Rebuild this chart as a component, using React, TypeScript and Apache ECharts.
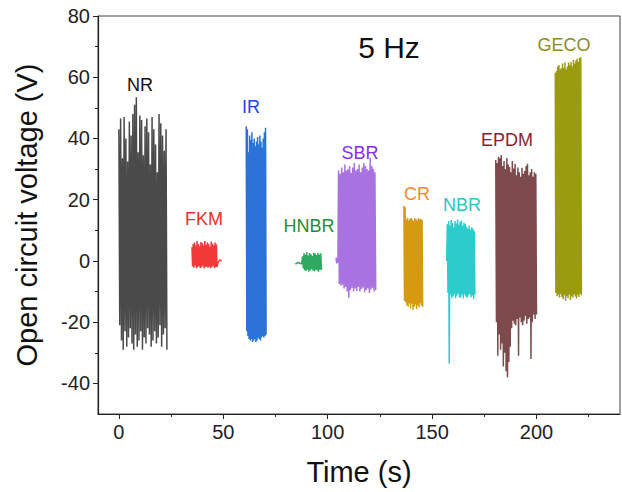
import React, { useEffect, useRef } from "react";
import * as echarts from "echarts";

const FONT = "'Liberation Sans', Arial, sans-serif";

const xMajorTicks = [0, 50, 100, 150, 200];
const xMinorTicks = [25, 75, 125, 175, 225];
const yMajorTicks = [-40, -20, 0, 20, 40, 60, 80];
const yMinorTicks = [-30, -10, 10, 30, 50, 70];

const materials = ["NR", "FKM", "IR", "HNBR", "SBR", "CR", "NBR", "EPDM", "GECO"];
const lineColors = ["#4a4a4a", "#f03a3a", "#2a72d8", "#2fa860", "#a873e0", "#d69a10", "#2ccccc", "#7d4a4c", "#9b9b10"];
const labelColors = ["#111111", "#e8302f", "#1e44e0", "#1f8f2f", "#8a2be2", "#f28a2e", "#2bc6c6", "#8b1f2f", "#8c8c1e"];

// time windows (s) of each oscillating block
const blockStart = [0, 35, 61, 88, 105.2, 136.5, 157.3, 180.5, 209];
const blockEnd = [23, 47, 70.5, 97, 123, 145.5, 170.5, 200, 221.5];

const nrPeaks = [43, 46.5, 33.5, 47, 40, 32.5, 45.5, 41, 48, 51, 53.5, 35.5, 47.5, 46, 34.5, 44, 46.5, 42, 31.5, 47, 43, 38, 29, 48, 45, 41, 36, 43];
const nrTroughs = [-21, -26, -29, -23, -28, -25, -22, -27, -29, -24, -28, -26, -23, -29, -25, -27, -22, -24, -28, -26, -23, -27, -25, -21, -28, -24, -22, -29];

const fkmPeaks = [4.5, 5.5, 6, 5, 6.5, 5.5, 4.8, 6.2, 5.8, 5, 6.5, 5.2, 6, 5.5, 4.6, 6.3, 5.7, 5, 6, 5.4];
const fkmTroughs = [-1.8, -2.2, -1.5, -2.4, -2, -1.7, -2.3, -2.1, -1.6, -2.5, -2, -1.9, -2.2, -1.8, -2.4, -2, -1.6, -2.3, -2.1, -1.9];
const fkmTail = [[47.5, -0.4], [48.3, 0.3], [49.3, 0]];

const irPeaks = [44, 43, 35.5, 41, 39.5, 42, 38.5, 40, 37.5, 39, 40.5, 38, 41, 39, 37, 40, 42, 43.5];
const irTroughs = [-23, -24.5, -25.5, -26, -25.5, -26.5, -26, -25.5, -26.5, -26, -25, -25.5, -26, -25, -24.5, -25, -24.5, -24];

const hnbrLead = [[84.5, -1], [86, -0.5], [87.5, -1]];
const hnbrPeaks = [1.5, 2.5, 2, 2.8, 1.8, 2.6, 2.2, 1.6, 2.7, 2.4, 1.9, 2.6, 2.1, 2.5];
const hnbrTroughs = [-2.5, -3, -3.3, -2.8, -3.5, -3, -2.6, -3.2, -3.4, -2.9, -3.1, -3.5, -2.8, -3];

const sbrLead = [[104, 1], [104.3, -0.8], [104.6, 1.2], [104.9, -0.6]];
const sbrPeaks = [29.5, 28.5, 30.5, 29, 31.5, 29.5, 30, 31, 28.8, 30.5, 32, 29.5, 30, 31.5, 29, 30.5, 32, 31, 30, 29.5, 33.7, 31, 30, 29];
const sbrTroughs = [-7.5, -8, -7.8, -9, -8.5, -10, -12, -9.5, -8.8, -10, -9, -9.8, -8.5, -10, -9.2, -8.7, -10.2, -9.5, -9, -10.5, -9.3, -8.8, -10, -9.5];

const crPeaks = [18, 17.5, 13.5, 14, 13.2, 13.8, 14, 13.5, 13, 14, 13.6, 13.2, 14, 13.5, 13.8, 13.4];
const crTroughs = [-13, -13.5, -14.5, -15, -13.8, -15.5, -14, -16, -15, -14.2, -15.8, -14.5, -15.2, -13.8, -14.6, -15];

const nbrLead = [[157, 0]];
const nbrPeaks = [12, 13, 11.5, 13.4, 12.5, 11, 13, 12.2, 13.5, 11.8, 12.8, 13.2, 11.5, 12.5, 12, 11.2, 10.5, 11.5, 10.2, 11, 10.5, 9.8];
const nbrTroughs = [-10.5, -33.5, -11, -12, -11.5, -10.8, -12.2, -11.4, -10.6, -12, -11.8, -11, -12.3, -10.9, -11.6, -12, -11.2, -10.7, -11.9, -11.3, -12.4, -11];

const epdmPeaks = [33, 32, 34, 33.5, 34.6, 31, 32.6, 30, 33.6, 31.5, 30.7, 29, 32.6, 30.2, 31.7, 28, 30.5, 29, 27.5, 30.4, 28.5, 29.4, 31, 31.7, 28, 29, 30, 27.5, 29, 28.5];
const epdmTroughs = [-20, -31, -24, -29, -27, -34.5, -30, -36, -38, -33, -28, -22, -19.5, -20.5, -21, -19, -31, -18.5, -20, -21, -19.5, -18, -20.5, -19, -18.5, -32, -20, -17.5, -19, -17.5];

const gecoPeaks = [61.5, 62, 63.5, 64, 62.5, 63, 64.5, 63, 64.8, 62.5, 63.5, 64.8, 64, 65, 63.5, 65.7, 64.5, 65.5, 66, 65, 66.3, 66.5];
const gecoTroughs = [-10.5, -11.5, -11, -12, -10.8, -11.8, -12.5, -11.2, -13, -11.5, -12.2, -11, -12.8, -11.5, -12, -10.8, -11.6, -12.3, -11, -11.8, -10.6, -11.2];

const allPeaks = [nrPeaks, fkmPeaks, irPeaks, hnbrPeaks, sbrPeaks, crPeaks, nbrPeaks, epdmPeaks, gecoPeaks];
const allTroughs = [nrTroughs, fkmTroughs, irTroughs, hnbrTroughs, sbrTroughs, crTroughs, nbrTroughs, epdmTroughs, gecoTroughs];
const leads: number[][][] = [[], [], [], hnbrLead, sbrLead, [], nbrLead, [], []];
const tails: number[][][] = [[], fkmTail, [], [], [], [], [], [], []];

function buildSignal(i: number): number[][] {
  const peaks = allPeaks[i];
  const troughs = allTroughs[i];
  const n = peaks.length;
  const t0 = blockStart[i];
  const step = (blockEnd[i] - t0) / (2 * n - 1);
  const out: number[][] = [...leads[i]];
  for (let k = 0; k < n; k++) {
    out.push([t0 + 2 * k * step, peaks[k]]);
    out.push([t0 + (2 * k + 1) * step, troughs[k]]);
  }
  return out.concat(tails[i]);
}

// label anchor positions in pixels (layout)
const labelPos = [
  [140, 85], [204, 219], [251, 107], [309, 226], [360, 153], [417, 194], [462, 205], [507, 140], [564, 45],
];

export default function App() {
  const ref = useRef<HTMLDivElement>(null);
  useEffect(() => {
    if (!ref.current) return;
    const chart = echarts.init(ref.current, null, { renderer: "svg" });
    const axisColor = "#222";
    const series = materials.map((m, i) => ({
      name: m,
      type: "line",
      data: buildSignal(i),
      showSymbol: false,
      symbol: "none",
      lineStyle: { color: lineColors[i], width: 1.5 },
      itemStyle: { color: lineColors[i] },
      z: 3,
    }));
    const graphics: any[] = materials.map((m, i) => ({
      type: "text",
      x: labelPos[i][0],
      y: labelPos[i][1],
      style: {
        text: m,
        fill: labelColors[i],
        fontSize: 18,
        fontFamily: FONT,
        align: "center",
        verticalAlign: "middle",
        textAlign: "center",
        textVerticalAlign: "middle",
      },
      z: 10,
    }));
    graphics.push({
      type: "text",
      x: 389,
      y: 47,
      style: {
        text: "5 Hz",
        fill: "#111",
        fontSize: 30,
        fontFamily: FONT,
        align: "center",
        verticalAlign: "middle",
        textAlign: "center",
        textVerticalAlign: "middle",
      },
      z: 10,
    });
    chart.setOption({
      animation: false,
      backgroundColor: "#fff",
      grid: {
        left: 98,
        right: 2,
        top: 16,
        bottom: 78,
        show: true,
        borderColor: "#444",
        borderWidth: 1,
        backgroundColor: "transparent",
      },
      xAxis: [
        {
          type: "value",
          min: -10,
          max: 240,
          position: "bottom",
          axisLine: { show: true, onZero: false, lineStyle: { color: axisColor, width: 1.2 } },
          axisTick: { show: true, customValues: xMajorTicks, length: 5, lineStyle: { color: axisColor } },
          axisLabel: {
            customValues: xMajorTicks,
            fontSize: 20,
            color: "#222",
            fontFamily: FONT,
            margin: 8,
          },
          splitLine: { show: false },
          name: "Time (s)",
          nameLocation: "middle",
          nameGap: 43,
          nameTextStyle: { fontSize: 29, color: "#111", fontFamily: FONT },
        },
        {
          type: "value",
          min: -10,
          max: 240,
          position: "bottom",
          axisLine: { show: false, onZero: false },
          axisTick: { show: true, customValues: xMinorTicks, length: 3, lineStyle: { color: axisColor } },
          axisLabel: { show: false },
          splitLine: { show: false },
        },
      ],
      yAxis: [
        {
          type: "value",
          min: -50,
          max: 80,
          position: "left",
          axisLine: { show: true, onZero: false, lineStyle: { color: axisColor, width: 1.2 } },
          axisTick: { show: true, customValues: yMajorTicks, length: 5, lineStyle: { color: axisColor } },
          axisLabel: {
            customValues: yMajorTicks,
            fontSize: 20,
            color: "#222",
            fontFamily: FONT,
            margin: 8,
          },
          splitLine: { show: false },
          name: "Open circuit voltage (V)",
          nameLocation: "middle",
          nameGap: 57,
          nameTextStyle: { fontSize: 29, color: "#111", fontFamily: FONT },
        },
        {
          type: "value",
          min: -50,
          max: 80,
          position: "left",
          axisLine: { show: false, onZero: false },
          axisTick: { show: true, customValues: yMinorTicks, length: 3, lineStyle: { color: axisColor } },
          axisLabel: { show: false },
          splitLine: { show: false },
        },
      ],
      series,
      graphic: graphics,
    });
    return () => chart.dispose();
  }, []);
  return <div ref={ref} style={{ width: 622, height: 492, position: "absolute", left: 0, top: 0 }} />;
}
